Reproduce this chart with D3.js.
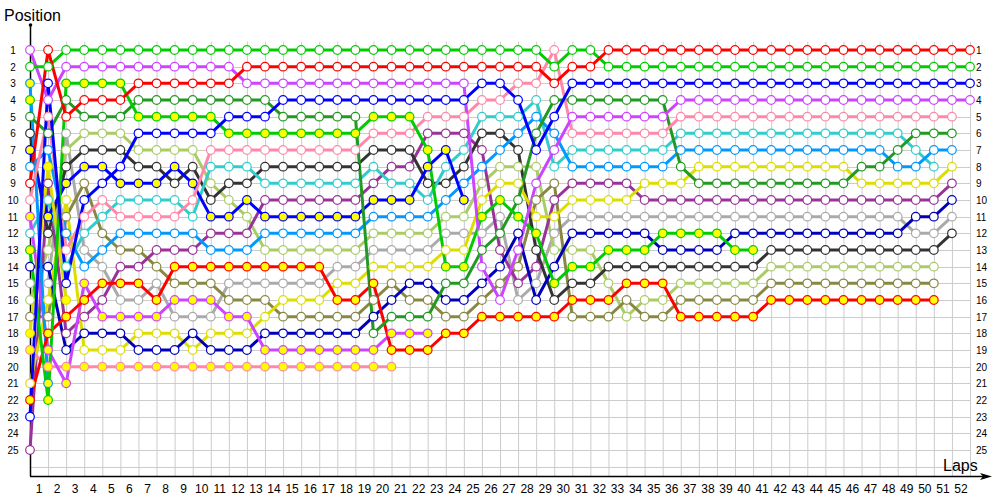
<!DOCTYPE html>
<html>
<head>
<meta charset="utf-8">
<script src="https://cdn.jsdelivr.net/npm/d3@7"></script>
<style>
  body { margin: 0; background: #fff; }
  text { font-family: "Liberation Sans", Arial, sans-serif; fill: #000; }
</style>
</head>
<body>
<svg id="chart" width="1000" height="500"></svg>
<script>
// positions per lap, index 0 = start grid
const lapLabels = d3.range(1, 53)
const posLabels = d3.range(1, 26)

const redPos = [9,1,5,4,4,4,3,3,3,3,3,3,2,2,2,2,2,2,2,2,2,2,2,2,2,2,2,2,2,3,2,2,1,1,1,1,1,1,1,1,1,1,1,1,1,1,1,1,1,1,1,1,1]
const greenPos = [2,2,1,1,1,1,1,1,1,1,1,1,1,1,1,1,1,1,1,1,1,1,1,1,1,1,1,1,1,2,1,1,2,2,2,2,2,2,2,2,2,2,2,2,2,2,2,2,2,2,2,2,2]
const bluePos = [23,3,15,10,9,8,6,6,6,6,6,5,5,5,4,4,4,4,4,4,4,4,4,4,4,3,3,4,7,5,3,3,3,3,3,3,3,3,3,3,3,3,3,3,3,3,3,3,3,3,3,3,3]
const violetPos = [1,4,2,2,2,2,2,2,2,2,2,2,3,3,3,3,3,3,3,3,3,3,3,3,3,14,16,13,9,7,5,5,5,5,5,5,4,4,4,4,4,4,4,4,4,4,4,4,4,4,4,4,4]
const pinkPos = [10,5,13,11,10,11,11,11,11,10,7,7,7,7,7,7,7,7,7,6,6,6,5,5,5,4,4,3,3,1,6,6,6,6,6,6,5,5,5,5,5,5,5,5,5,5,5,5,5,5,5,5]
const forestPos = [5,6,4,5,5,5,4,4,4,4,4,4,4,4,5,5,5,5,5,18,17,17,17,15,15,13,12,10,6,4,4,4,4,4,4,4,8,9,9,9,9,9,9,9,9,9,8,8,7,6,6,6]
const skyPos = [8,7,12,14,13,12,12,12,12,12,13,13,13,12,12,12,12,12,12,11,11,11,11,10,9,8,7,6,5,6,8,8,8,8,8,8,7,7,7,7,7,7,7,7,7,7,7,7,8,8,7,7]
const yellowPos = [21,16,10,19,19,19,18,18,18,19,18,18,18,17,16,16,16,15,15,14,14,14,14,13,13,10,9,9,11,11,10,10,10,10,9,9,9,8,8,8,8,8,8,8,8,8,9,9,9,9,9,8]
const plumPos = [25,9,18,17,16,14,14,13,13,13,12,12,12,10,10,10,10,10,10,9,8,8,6,6,6,7,13,15,14,10,9,9,9,9,10,10,10,10,10,10,10,10,10,10,10,10,10,10,10,10,10,9]
const navyPos = [14,14,19,18,18,18,19,19,19,18,19,19,19,18,18,18,18,18,18,17,16,15,15,16,16,15,14,12,16,14,12,12,12,12,12,13,13,13,13,12,12,12,12,12,12,12,12,12,12,11,11,10]
const greyPos = [15,15,6,13,14,16,16,15,17,17,17,15,15,15,15,15,15,14,14,13,13,13,13,12,12,12,11,16,15,12,11,11,11,11,11,11,11,11,11,11,11,11,11,11,11,11,11,11,11,12,12,11]
const charcoalPos = [6,12,8,7,7,7,8,8,9,8,10,9,9,8,8,8,8,8,8,7,7,7,9,9,8,6,6,7,13,16,15,15,14,14,14,14,14,14,14,14,14,13,13,13,13,13,13,13,13,13,13,12]
const limeYellowPos = [13,22,3,3,3,3,5,5,5,5,5,6,6,6,6,6,6,6,6,5,5,5,7,14,14,11,10,11,12,15,14,14,13,13,13,12,12,12,12,13,13]
const limeYellow2Pos = [4]
const sagePos = [16,13,7,6,6,6,7,7,7,7,9,10,11,13,13,13,13,13,13,12,12,12,12,11,11,9,8,8,8,13,13,13,15,17,16,16,15,15,15,15,15,14,14,14,14,14,14,14,14,14,14]
const olivePos = [17,17,11,9,12,13,13,14,15,15,15,16,16,16,17,17,17,17,17,16,15,16,16,17,17,16,15,14,10,9,17,17,17,16,17,17,16,16,16,16,16,15,15,15,15,15,15,15,15,15,15]
const redYellowPos = [22,18,17,16,15,15,15,16,14,14,14,14,14,14,14,14,14,16,16,15,19,19,19,18,18,17,17,17,17,17,16,16,16,15,15,15,17,17,17,17,17,16,16,16,16,16,16,16,16,16,16]
const tealPos = [12,10,14,12,11,10,10,10,10,11,8,8,8,9,9,9,9,9,9,8,9,9,10,8,7,5,5,5,4,8,7,7,7,7,7,7,6,6,6,6,6,6,6,6,6,6,6,6,6,7,8]
const blueYellowPos = [7,11,9,8,8,9,9,9,8,9,11,11,10,11,11,11,11,11,11,10,10,10,8,7,10]
const violetYellowPos = [11,19,21,15,17,17,17,17,16,16,16,17,17,19,19,19,19,19,19,19,18,18,18]
const pinkYellowPos = [19,20,20,20,20,20,20,20,20,20,20,20,20,20,20,20,20,20,20,20,20]
const skyYellowPos = [3,21]
const yellowYellowPos = [18,8,16]

const series = [
  { color: '#aaaaaa', fill: '#fff', pos: greyPos },
  { color: '#aacc66', fill: '#fff', pos: sagePos },
  { color: '#888844', fill: '#fff', pos: olivePos },
  { color: '#993399', fill: '#fff', pos: plumPos },
  { color: '#333333', fill: '#fff', pos: charcoalPos },
  { color: '#33cccc', fill: '#fff', pos: tealPos },
  { color: '#0099ff', fill: '#fff', pos: skyPos },
  { color: '#dddd00', fill: '#fff', pos: yellowPos },
  { color: '#0000bb', fill: '#fff', pos: navyPos },
  { color: '#ff88aa', fill: '#ffff00', pos: pinkYellowPos },
  { color: '#cc44ff', fill: '#ffff00', pos: violetYellowPos },
  { color: '#0000ff', fill: '#ffff00', pos: blueYellowPos },
  { color: '#dddd00', fill: '#ffff00', pos: yellowYellowPos },
  { color: '#0099ff', fill: '#ffff00', pos: skyYellowPos },
  { color: '#00cc00', fill: '#ffff00', pos: limeYellow2Pos },
  { color: '#ff0000', fill: '#ffff00', pos: redYellowPos },
  { color: '#229922', fill: '#fff', pos: forestPos },
  { color: '#ff88aa', fill: '#fff', pos: pinkPos },
  { color: '#00cc00', fill: '#ffff00', pos: limeYellowPos },
  { color: '#0000ff', fill: '#fff', pos: bluePos },
  { color: '#cc44ff', fill: '#fff', pos: violetPos },
  { color: '#00cc00', fill: '#fff', pos: greenPos },
  { color: '#ff0000', fill: '#fff', pos: redPos }
]

const svg = d3.select('#chart')
const x = d3.scaleLinear().domain([0, 52]).range([30, 970])
const y = d3.scaleLinear().domain([1, 25]).range([50, 450])
const axisY = 476

// grid
const grid = svg.append('g').attr('stroke', '#cccccc').attr('stroke-width', 1)
grid.selectAll('line.v').data(lapLabels).enter().append('line')
  .attr('x1', d => x(d) + 0.5).attr('x2', d => x(d) + 0.5)
  .attr('y1', y(0.5)).attr('y2', axisY)
grid.selectAll('line.h').data(d3.range(1, 27)).enter().append('line')
  .attr('x1', x(0)).attr('x2', x(52))
  .attr('y1', d => Math.round(y(d)) + 0.5).attr('y2', d => Math.round(y(d)) + 0.5)

// axes
svg.append('line').attr('x1', 30.5).attr('x2', 30.5).attr('y1', 25).attr('y2', axisY)
  .attr('stroke', '#000').attr('stroke-width', 1.5)
svg.append('circle').attr('cx', 30.5).attr('cy', 25).attr('r', 1.8).attr('fill', '#000')
svg.append('line').attr('x1', 30).attr('x2', 984).attr('y1', axisY + 0.5).attr('y2', axisY + 0.5)
  .attr('stroke', '#000').attr('stroke-width', 1.5)
svg.append('path').attr('d', `M992,${axisY + 0.5} L980,${axisY - 3} L983,${axisY + 0.5} L980,${axisY + 4} Z`).attr('fill', '#000')

svg.append('text').attr('x', 4).attr('y', 21).attr('font-size', 16).text('Position')
svg.append('text').attr('x', 943).attr('y', 471).attr('font-size', 16).text('Laps')

svg.selectAll('text.lapl').data(lapLabels).enter().append('text')
  .attr('x', d => x(d - 0.5)).attr('y', 493).attr('text-anchor', 'middle')
  .attr('font-size', 12).text(d => d)
svg.selectAll('text.pl').data(posLabels).enter().append('text')
  .attr('x', 13).attr('y', d => y(d) + 4).attr('text-anchor', 'middle')
  .attr('font-size', 10).text(d => d)
svg.selectAll('text.pr').data(posLabels).enter().append('text')
  .attr('x', 976).attr('y', d => y(d) + 4)
  .attr('font-size', 10).text(d => d)

// series
const line = d3.line().x((d, i) => x(i)).y(d => y(d))
const g = svg.append('g')
series.forEach(s => {
  g.append('path').datum(s.pos).attr('d', line)
    .attr('fill', 'none').attr('stroke', s.color).attr('stroke-width', 3)
    .attr('stroke-linejoin', 'round')
})
series.forEach(s => {
  g.append('g').selectAll('circle').data(s.pos).enter().append('circle')
    .attr('cx', (d, i) => x(i)).attr('cy', d => y(d)).attr('r', 4.3)
    .attr('fill', s.fill).attr('stroke', s.color).attr('stroke-width', 1.2)
})
</script>
</body>
</html>
